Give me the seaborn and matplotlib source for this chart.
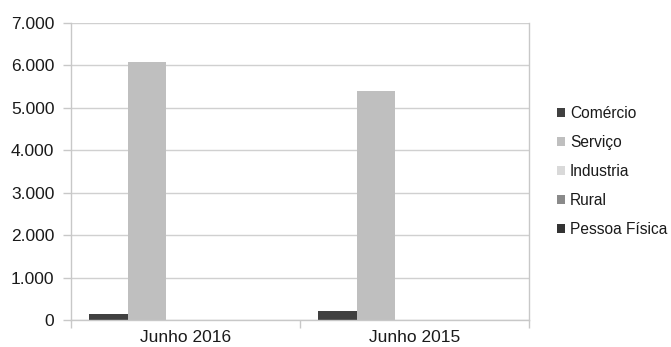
import pandas as pd
import matplotlib.pyplot as plt
import matplotlib.ticker as mticker
import seaborn as sns

# Dados
periodos = ['Junho 2016', 'Junho 2015']
setores = ['Comércio', 'Serviço', 'Industria', 'Rural', 'Pessoa Física']
comercio = [150, 210]
servico = [6080, 5390]
industria = [0, 0]
rural = [0, 0]
pessoa_fisica = [0, 0]
cores = ['#404040', '#bfbfbf', '#d9d9d9', '#8a8a8a', '#333333']

valores = [comercio, servico, industria, rural, pessoa_fisica]
linhas = []
for setor, vals in zip(setores, valores):
    for periodo, v in zip(periodos, vals):
        linhas.append({'Periodo': periodo, 'Setor': setor, 'Valor': v})
df = pd.DataFrame(linhas)

sns.set_theme(style="white")
plt.rcParams['font.family'] = ['Liberation Sans', 'DejaVu Sans']

fig = plt.figure(figsize=(6.71, 3.47), dpi=100)
ax = fig.add_axes([0.1058, 0.0778, 0.682, 0.856])

sns.barplot(data=df, x='Periodo', y='Valor', hue='Setor', order=periodos,
            hue_order=setores, palette=cores, width=0.84, saturation=1,
            linewidth=0, ax=ax)

ax.set_xlim(-0.5, 1.5)
ax.set_ylim(0, 7000)
ax.set_yticks(range(0, 7001, 1000))
ax.yaxis.set_major_formatter(mticker.FuncFormatter(lambda v, p: f'{int(v):,}'.replace(',', '.')))
ax.yaxis.grid(True, color='#d0d0d0', linewidth=1)
ax.set_axisbelow(True)
ax.set_xlabel('')
ax.set_ylabel('')

for s in ['left', 'bottom', 'right']:
    ax.spines[s].set_color('#c8c8c8')
    ax.spines[s].set_linewidth(1)
ax.spines['top'].set_visible(False)

ax.tick_params(axis='y', which='major', length=6, color='#c8c8c8', width=1,
               labelsize=12.5, labelcolor='#1a1a1a', pad=6, left=True)
ax.tick_params(axis='x', which='major', length=0, labelsize=12.5,
               labelcolor='#1a1a1a', pad=7)
ax.set_xticks([-0.5, 0.5, 1.5], minor=True)
ax.tick_params(axis='x', which='minor', length=6, color='#c8c8c8', width=1, bottom=True)

leg = ax.legend(loc='center left', bbox_to_anchor=(1.038, 0.5), frameon=False,
                fontsize=11.2, handlelength=0.55, handleheight=0.55,
                handletextpad=0.28, labelspacing=0.9, borderaxespad=0.3)
for t in leg.get_texts():
    t.set_color('#1a1a1a')

plt.savefig('out.png', dpi=100)
